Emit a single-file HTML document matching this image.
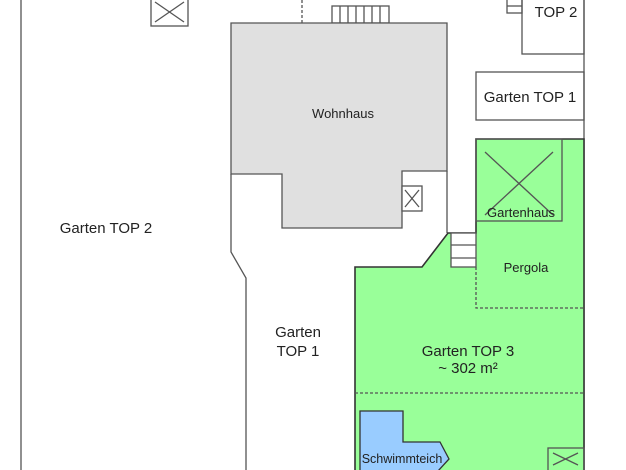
<!DOCTYPE html>
<html><head><meta charset="utf-8"><style>
html,body{margin:0;padding:0;background:#fff;width:626px;height:470px;overflow:hidden}
svg{display:block}
text{font-family:"Liberation Sans",sans-serif;fill:#222}
</style></head><body>
<svg width="626" height="470" viewBox="0 0 626 470" xmlns="http://www.w3.org/2000/svg">
<g stroke="#555" stroke-width="1.3" fill="none">
<line x1="21" y1="0" x2="21" y2="470"/>
<rect x="151" y="-1" width="37" height="27" fill="#fff"/>
<line x1="155" y1="2" x2="184" y2="22"/><line x1="184" y1="2" x2="155" y2="22"/>
<line x1="302" y1="0" x2="302" y2="23" stroke-dasharray="3,2"/>
<rect x="332" y="6" width="57" height="17" fill="#fff"/>
<line x1="340" y1="6" x2="340" y2="23"/><line x1="348" y1="6" x2="348" y2="23"/><line x1="356" y1="6" x2="356" y2="23"/><line x1="364" y1="6" x2="364" y2="23"/><line x1="372" y1="6" x2="372" y2="23"/><line x1="380" y1="6" x2="380" y2="23"/>
<polygon points="231,23 447,23 447,171 402,171 402,228 282,228 282,174 231,174" fill="#e0e0e0"/>
<polyline points="231,174 231,252 246,278 246,470"/>
<line x1="447" y1="171" x2="447" y2="233"/>
<rect x="402" y="186" width="20" height="25" fill="#fff"/>
<line x1="405" y1="190" x2="419" y2="207"/><line x1="419" y1="190" x2="405" y2="207"/>
<rect x="522" y="-1" width="62" height="55"/>
<rect x="507" y="-1" width="15" height="14"/>
<line x1="507" y1="6" x2="522" y2="6"/>
<rect x="476" y="72" width="108" height="48"/>
<line x1="584" y1="0" x2="584" y2="470"/>
<polygon points="476,139 584,139 584,471 355,471 355,267 422,267 448,233 476,233" fill="#99ff99" stroke="#333" stroke-width="1.6"/>
<rect x="476" y="139" width="86" height="82"/>
<line x1="485" y1="152" x2="553" y2="215"/><line x1="553" y1="152" x2="485" y2="215"/>
<rect x="451" y="233" width="25" height="34" fill="#fff"/>
<line x1="451" y1="245" x2="476" y2="245"/><line x1="451" y1="258" x2="476" y2="258"/>
<polyline points="476,267 476,308 584,308" stroke-dasharray="3,2"/>
<line x1="355" y1="393" x2="584" y2="393" stroke-dasharray="3,2"/>
<polygon points="360,471 360,411 403,411 403,442 440,442 449,459 438,471" fill="#99ccff" stroke="#333"/>
<rect x="548" y="448" width="36" height="24"/>
<line x1="553" y1="453" x2="578" y2="465"/><line x1="578" y1="453" x2="553" y2="465"/>
</g>
<text x="343" y="118" font-size="13" text-anchor="middle">Wohnhaus</text>
<text x="106" y="233" font-size="15" text-anchor="middle">Garten TOP 2</text>
<text x="298" y="337" font-size="15" text-anchor="middle">Garten</text>
<text x="298" y="356" font-size="15" text-anchor="middle">TOP 1</text>
<text x="530" y="102" font-size="15" text-anchor="middle">Garten TOP 1</text>
<text x="556" y="17" font-size="15" text-anchor="middle">TOP 2</text>
<text x="521" y="217" font-size="13" text-anchor="middle">Gartenhaus</text>
<text x="526" y="272" font-size="13" text-anchor="middle">Pergola</text>
<text x="468" y="356" font-size="15" text-anchor="middle">Garten TOP 3</text>
<text x="468" y="373" font-size="15" text-anchor="middle">~ 302 m²</text>
<text x="402" y="463" font-size="12.5" text-anchor="middle">Schwimmteich</text>
</svg>
</body></html>
